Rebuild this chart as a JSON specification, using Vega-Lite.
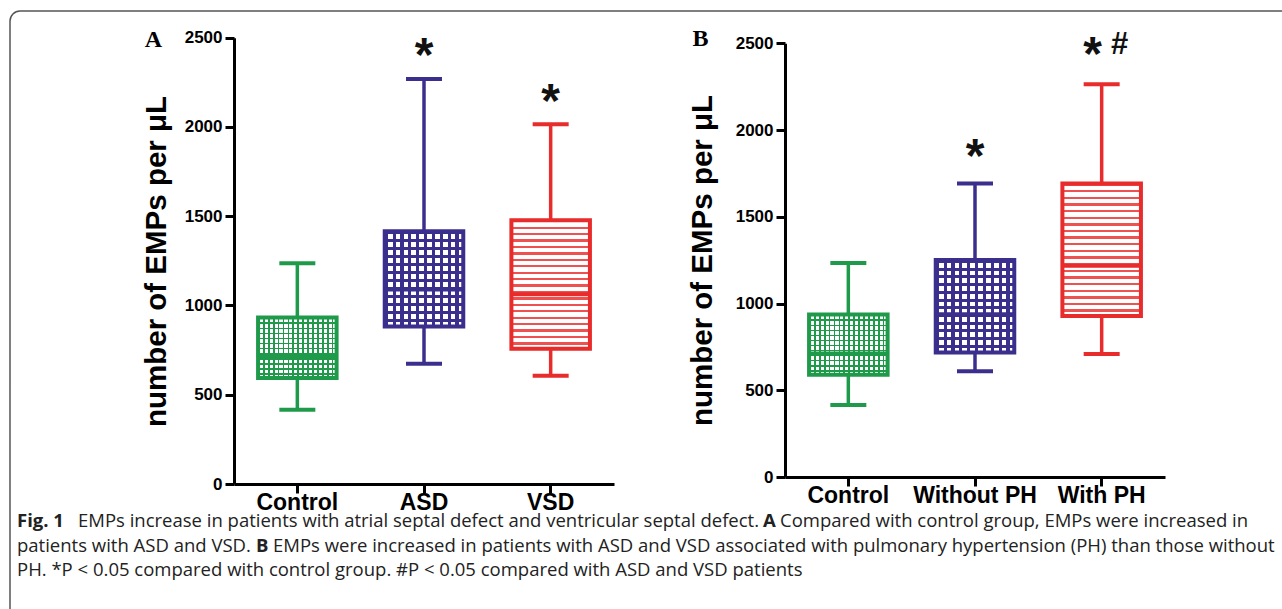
{
  "$schema": "https://vega.github.io/schema/vega-lite/v6.json",
  "autosize": "none",
  "width": 1290,
  "height": 610,
  "padding": {"left": 10, "top": 11, "right": 0, "bottom": 0},
  "background": "white",
  "config": {
    "view": {"stroke": "#555555", "strokeWidth": 1.5, "cornerRadius": 10, "fill": "white"},
    "axis": {"domainColor": "#000", "domainWidth": 3, "tickColor": "#000", "tickWidth": 3, "tickSize": 9, "grid": false,
      "labelFont": "Liberation Sans", "labelFontWeight": "bold", "labelColor": "#000",
      "titleFont": "Liberation Sans", "titleFontWeight": "bold", "titleColor": "#000"},
    "axisX": {"labelFontSize": 23, "labelAngle": 0, "labelPadding": -2},
    "axisY": {"labelFontSize": 17, "labelPadding": 3, "titleFontSize": 29.5, "format": "d"},
    "tick": {"opacity": 1}
  },
  "datasets": {
    "boxes": [
      {"panel": "A", "group": "Control", "min": 416, "q1": 594, "median": 713, "q3": 933, "max": 1236},
      {"panel": "A", "group": "ASD", "min": 674, "q1": 882, "median": 1090, "q3": 1416, "max": 2268},
      {"panel": "A", "group": "VSD", "min": 607, "q1": 758, "median": 1063, "q3": 1478, "max": 2015},
      {"panel": "B", "group": "Control", "min": 415, "q1": 589, "median": 712, "q3": 937, "max": 1233},
      {"panel": "B", "group": "Without PH", "min": 610, "q1": 718, "median": 938, "q3": 1251, "max": 1692},
      {"panel": "B", "group": "With PH", "min": 709, "q1": 928, "median": 1217, "q3": 1692, "max": 2264}
    ],
    "notes": [
      {"panel": "A", "group": "ASD", "label": "*", "value": 2455},
      {"panel": "A", "group": "VSD", "label": "*", "value": 2197},
      {"panel": "B", "group": "Without PH", "label": "*", "value": 1900},
      {"panel": "B", "group": "With PH", "label": "*", "value": 2490},
      {"panel": "B", "group": "With PH", "label": "#", "value": 2490}
    ],
    "caption": [
      {"line": 1, "seg": "fig", "text": "Fig. 1"},
      {"line": 1, "seg": "t1", "text": "EMPs increase in patients with atrial septal defect and ventricular septal defect."},
      {"line": 1, "seg": "a", "text": "A"},
      {"line": 1, "seg": "t2", "text": "Compared with control group, EMPs were increased in"},
      {"line": 2, "seg": "t3", "text": "patients with ASD and VSD."},
      {"line": 2, "seg": "b", "text": "B"},
      {"line": 2, "seg": "t4", "text": "EMPs were increased in patients with ASD and VSD associated with pulmonary hypertension (PH) than those without"},
      {"line": 3, "seg": "t5", "text": "PH. *P < 0.05 compared with control group. #P < 0.05 compared with ASD and VSD patients"}
    ]
  },
  "layer": [
    {
      "data": {"name": "boxes"},
      "transform": [{"filter": "datum.panel === 'A'"}],
      "encoding": {
        "x": {"field": "group", "type": "nominal",
          "scale": {"domain": ["Control", "ASD", "VSD"], "range": [224, 604], "paddingInner": 0, "paddingOuter": 0},
          "axis": {"orient": "bottom", "offset": -137, "title": "A", "titleX": 143, "titleY": -445, "titleFont": "Liberation Serif", "titleFontSize": 24, "titleAngle": 0, "titleAlign": "center", "titleBaseline": "middle"}}
      },
      "layer": [
        {"transform": [{"filter": "datum.group === 'Control'"}],
          "mark": {"type": "bar", "width": {"band": 0.62}, "fill": {"gradient": "linear", "x1": 0, "y1": 0, "x2": 1, "y2": 0, "stops": [
            {"offset": 0, "color": "#1f9a4b"}, {"offset": 0.022, "color": "#1f9a4b"}, {"offset": 0.022, "color": "#ffffff"}, {"offset": 0.0625, "color": "#ffffff"},
            {"offset": 0.0625, "color": "#1f9a4b"}, {"offset": 0.0845, "color": "#1f9a4b"}, {"offset": 0.0845, "color": "#ffffff"}, {"offset": 0.125, "color": "#ffffff"},
            {"offset": 0.125, "color": "#1f9a4b"}, {"offset": 0.147, "color": "#1f9a4b"}, {"offset": 0.147, "color": "#ffffff"}, {"offset": 0.1875, "color": "#ffffff"},
            {"offset": 0.1875, "color": "#1f9a4b"}, {"offset": 0.2095, "color": "#1f9a4b"}, {"offset": 0.2095, "color": "#ffffff"}, {"offset": 0.25, "color": "#ffffff"},
            {"offset": 0.25, "color": "#1f9a4b"}, {"offset": 0.272, "color": "#1f9a4b"}, {"offset": 0.272, "color": "#ffffff"}, {"offset": 0.3125, "color": "#ffffff"},
            {"offset": 0.3125, "color": "#1f9a4b"}, {"offset": 0.3345, "color": "#1f9a4b"}, {"offset": 0.3345, "color": "#ffffff"}, {"offset": 0.375, "color": "#ffffff"},
            {"offset": 0.375, "color": "#1f9a4b"}, {"offset": 0.397, "color": "#1f9a4b"}, {"offset": 0.397, "color": "#ffffff"}, {"offset": 0.4375, "color": "#ffffff"},
            {"offset": 0.4375, "color": "#1f9a4b"}, {"offset": 0.4595, "color": "#1f9a4b"}, {"offset": 0.4595, "color": "#ffffff"}, {"offset": 0.5, "color": "#ffffff"},
            {"offset": 0.5, "color": "#1f9a4b"}, {"offset": 0.522, "color": "#1f9a4b"}, {"offset": 0.522, "color": "#ffffff"}, {"offset": 0.5625, "color": "#ffffff"},
            {"offset": 0.5625, "color": "#1f9a4b"}, {"offset": 0.5845, "color": "#1f9a4b"}, {"offset": 0.5845, "color": "#ffffff"}, {"offset": 0.625, "color": "#ffffff"},
            {"offset": 0.625, "color": "#1f9a4b"}, {"offset": 0.647, "color": "#1f9a4b"}, {"offset": 0.647, "color": "#ffffff"}, {"offset": 0.6875, "color": "#ffffff"},
            {"offset": 0.6875, "color": "#1f9a4b"}, {"offset": 0.7095, "color": "#1f9a4b"}, {"offset": 0.7095, "color": "#ffffff"}, {"offset": 0.75, "color": "#ffffff"},
            {"offset": 0.75, "color": "#1f9a4b"}, {"offset": 0.772, "color": "#1f9a4b"}, {"offset": 0.772, "color": "#ffffff"}, {"offset": 0.8125, "color": "#ffffff"},
            {"offset": 0.8125, "color": "#1f9a4b"}, {"offset": 0.8345, "color": "#1f9a4b"}, {"offset": 0.8345, "color": "#ffffff"}, {"offset": 0.875, "color": "#ffffff"},
            {"offset": 0.875, "color": "#1f9a4b"}, {"offset": 0.897, "color": "#1f9a4b"}, {"offset": 0.897, "color": "#ffffff"}, {"offset": 0.9375, "color": "#ffffff"},
            {"offset": 0.9375, "color": "#1f9a4b"}, {"offset": 0.9595, "color": "#1f9a4b"}, {"offset": 0.9595, "color": "#ffffff"}, {"offset": 1, "color": "#ffffff"}]}},
          "encoding": {"y": {"field": "q3", "type": "quantitative",
            "scale": {"domain": [0, 2500], "range": [473, 26.7], "nice": false},
            "axis": {"orient": "left", "offset": -224, "values": [0, 500, 1000, 1500, 2000, 2500], "title": "number of EMPs per μL", "titleX": -78, "titleY": 250, "titleAngle": -90, "titleAlign": "center", "titleBaseline": "middle"}},
            "y2": {"field": "q1"}}},
        {"transform": [{"filter": "datum.group === 'Control'"}],
          "mark": {"type": "bar", "width": {"band": 0.62}, "fill": {"gradient": "linear", "x1": 0, "y1": 0, "x2": 0, "y2": 1, "stops": [
            {"offset": 0, "color": "#1f9a4b"}, {"offset": 0.029, "color": "#1f9a4b"}, {"offset": 0.029, "color": "rgba(255,255,255,0)"}, {"offset": 0.0833, "color": "rgba(255,255,255,0)"},
            {"offset": 0.0833, "color": "#1f9a4b"}, {"offset": 0.1125, "color": "#1f9a4b"}, {"offset": 0.1125, "color": "rgba(255,255,255,0)"}, {"offset": 0.1667, "color": "rgba(255,255,255,0)"},
            {"offset": 0.1667, "color": "#1f9a4b"}, {"offset": 0.1958, "color": "#1f9a4b"}, {"offset": 0.1958, "color": "rgba(255,255,255,0)"}, {"offset": 0.25, "color": "rgba(255,255,255,0)"},
            {"offset": 0.25, "color": "#1f9a4b"}, {"offset": 0.2792, "color": "#1f9a4b"}, {"offset": 0.2792, "color": "rgba(255,255,255,0)"}, {"offset": 0.3333, "color": "rgba(255,255,255,0)"},
            {"offset": 0.3333, "color": "#1f9a4b"}, {"offset": 0.3625, "color": "#1f9a4b"}, {"offset": 0.3625, "color": "rgba(255,255,255,0)"}, {"offset": 0.4167, "color": "rgba(255,255,255,0)"},
            {"offset": 0.4167, "color": "#1f9a4b"}, {"offset": 0.4458, "color": "#1f9a4b"}, {"offset": 0.4458, "color": "rgba(255,255,255,0)"}, {"offset": 0.5, "color": "rgba(255,255,255,0)"},
            {"offset": 0.5, "color": "#1f9a4b"}, {"offset": 0.5292, "color": "#1f9a4b"}, {"offset": 0.5292, "color": "rgba(255,255,255,0)"}, {"offset": 0.5833, "color": "rgba(255,255,255,0)"},
            {"offset": 0.5833, "color": "#1f9a4b"}, {"offset": 0.6125, "color": "#1f9a4b"}, {"offset": 0.6125, "color": "rgba(255,255,255,0)"}, {"offset": 0.6667, "color": "rgba(255,255,255,0)"},
            {"offset": 0.6667, "color": "#1f9a4b"}, {"offset": 0.6958, "color": "#1f9a4b"}, {"offset": 0.6958, "color": "rgba(255,255,255,0)"}, {"offset": 0.75, "color": "rgba(255,255,255,0)"},
            {"offset": 0.75, "color": "#1f9a4b"}, {"offset": 0.7792, "color": "#1f9a4b"}, {"offset": 0.7792, "color": "rgba(255,255,255,0)"}, {"offset": 0.8333, "color": "rgba(255,255,255,0)"},
            {"offset": 0.8333, "color": "#1f9a4b"}, {"offset": 0.8625, "color": "#1f9a4b"}, {"offset": 0.8625, "color": "rgba(255,255,255,0)"}, {"offset": 0.9167, "color": "rgba(255,255,255,0)"},
            {"offset": 0.9167, "color": "#1f9a4b"}, {"offset": 0.9458, "color": "#1f9a4b"}, {"offset": 0.9458, "color": "rgba(255,255,255,0)"}, {"offset": 1, "color": "rgba(255,255,255,0)"}]}},
          "encoding": {"y": {"field": "q3", "type": "quantitative"}, "y2": {"field": "q1"}}},
        {"transform": [{"filter": "datum.group === 'ASD'"}],
          "mark": {"type": "bar", "width": {"band": 0.62}, "fill": {"gradient": "linear", "x1": 0, "y1": 0, "x2": 1, "y2": 0, "stops": [
            {"offset": 0, "color": "#3b2f8d"}, {"offset": 0.04, "color": "#3b2f8d"}, {"offset": 0.04, "color": "#ffffff"}, {"offset": 0.1, "color": "#ffffff"},
            {"offset": 0.1, "color": "#3b2f8d"}, {"offset": 0.14, "color": "#3b2f8d"}, {"offset": 0.14, "color": "#ffffff"}, {"offset": 0.2, "color": "#ffffff"},
            {"offset": 0.2, "color": "#3b2f8d"}, {"offset": 0.24, "color": "#3b2f8d"}, {"offset": 0.24, "color": "#ffffff"}, {"offset": 0.3, "color": "#ffffff"},
            {"offset": 0.3, "color": "#3b2f8d"}, {"offset": 0.34, "color": "#3b2f8d"}, {"offset": 0.34, "color": "#ffffff"}, {"offset": 0.4, "color": "#ffffff"},
            {"offset": 0.4, "color": "#3b2f8d"}, {"offset": 0.44, "color": "#3b2f8d"}, {"offset": 0.44, "color": "#ffffff"}, {"offset": 0.5, "color": "#ffffff"},
            {"offset": 0.5, "color": "#3b2f8d"}, {"offset": 0.54, "color": "#3b2f8d"}, {"offset": 0.54, "color": "#ffffff"}, {"offset": 0.6, "color": "#ffffff"},
            {"offset": 0.6, "color": "#3b2f8d"}, {"offset": 0.64, "color": "#3b2f8d"}, {"offset": 0.64, "color": "#ffffff"}, {"offset": 0.7, "color": "#ffffff"},
            {"offset": 0.7, "color": "#3b2f8d"}, {"offset": 0.74, "color": "#3b2f8d"}, {"offset": 0.74, "color": "#ffffff"}, {"offset": 0.8, "color": "#ffffff"},
            {"offset": 0.8, "color": "#3b2f8d"}, {"offset": 0.84, "color": "#3b2f8d"}, {"offset": 0.84, "color": "#ffffff"}, {"offset": 0.9, "color": "#ffffff"},
            {"offset": 0.9, "color": "#3b2f8d"}, {"offset": 0.94, "color": "#3b2f8d"}, {"offset": 0.94, "color": "#ffffff"}, {"offset": 1, "color": "#ffffff"}]}},
          "encoding": {"y": {"field": "q3", "type": "quantitative"}, "y2": {"field": "q1"}}},
        {"transform": [{"filter": "datum.group === 'ASD'"}],
          "mark": {"type": "bar", "width": {"band": 0.62}, "fill": {"gradient": "linear", "x1": 0, "y1": 0, "x2": 0, "y2": 1, "stops": [
            {"offset": 0, "color": "#3b2f8d"}, {"offset": 0.0333, "color": "#3b2f8d"}, {"offset": 0.0333, "color": "rgba(255,255,255,0)"}, {"offset": 0.0833, "color": "rgba(255,255,255,0)"},
            {"offset": 0.0833, "color": "#3b2f8d"}, {"offset": 0.1167, "color": "#3b2f8d"}, {"offset": 0.1167, "color": "rgba(255,255,255,0)"}, {"offset": 0.1667, "color": "rgba(255,255,255,0)"},
            {"offset": 0.1667, "color": "#3b2f8d"}, {"offset": 0.2, "color": "#3b2f8d"}, {"offset": 0.2, "color": "rgba(255,255,255,0)"}, {"offset": 0.25, "color": "rgba(255,255,255,0)"},
            {"offset": 0.25, "color": "#3b2f8d"}, {"offset": 0.2833, "color": "#3b2f8d"}, {"offset": 0.2833, "color": "rgba(255,255,255,0)"}, {"offset": 0.3333, "color": "rgba(255,255,255,0)"},
            {"offset": 0.3333, "color": "#3b2f8d"}, {"offset": 0.3667, "color": "#3b2f8d"}, {"offset": 0.3667, "color": "rgba(255,255,255,0)"}, {"offset": 0.4167, "color": "rgba(255,255,255,0)"},
            {"offset": 0.4167, "color": "#3b2f8d"}, {"offset": 0.45, "color": "#3b2f8d"}, {"offset": 0.45, "color": "rgba(255,255,255,0)"}, {"offset": 0.5, "color": "rgba(255,255,255,0)"},
            {"offset": 0.5, "color": "#3b2f8d"}, {"offset": 0.5333, "color": "#3b2f8d"}, {"offset": 0.5333, "color": "rgba(255,255,255,0)"}, {"offset": 0.5833, "color": "rgba(255,255,255,0)"},
            {"offset": 0.5833, "color": "#3b2f8d"}, {"offset": 0.6167, "color": "#3b2f8d"}, {"offset": 0.6167, "color": "rgba(255,255,255,0)"}, {"offset": 0.6667, "color": "rgba(255,255,255,0)"},
            {"offset": 0.6667, "color": "#3b2f8d"}, {"offset": 0.7, "color": "#3b2f8d"}, {"offset": 0.7, "color": "rgba(255,255,255,0)"}, {"offset": 0.75, "color": "rgba(255,255,255,0)"},
            {"offset": 0.75, "color": "#3b2f8d"}, {"offset": 0.7833, "color": "#3b2f8d"}, {"offset": 0.7833, "color": "rgba(255,255,255,0)"}, {"offset": 0.8333, "color": "rgba(255,255,255,0)"},
            {"offset": 0.8333, "color": "#3b2f8d"}, {"offset": 0.8667, "color": "#3b2f8d"}, {"offset": 0.8667, "color": "rgba(255,255,255,0)"}, {"offset": 0.9167, "color": "rgba(255,255,255,0)"},
            {"offset": 0.9167, "color": "#3b2f8d"}, {"offset": 0.95, "color": "#3b2f8d"}, {"offset": 0.95, "color": "rgba(255,255,255,0)"}, {"offset": 1, "color": "rgba(255,255,255,0)"}]}},
          "encoding": {"y": {"field": "q3", "type": "quantitative"}, "y2": {"field": "q1"}}},
        {"transform": [{"filter": "datum.group === 'VSD'"}],
          "mark": {"type": "bar", "width": {"band": 0.62}, "fill": {"gradient": "linear", "x1": 0, "y1": 0, "x2": 0, "y2": 1, "stops": [
            {"offset": 0, "color": "#ef5050"}, {"offset": 0.018, "color": "#ef5050"}, {"offset": 0.018, "color": "#ffffff"}, {"offset": 0.05, "color": "#ffffff"},
            {"offset": 0.05, "color": "#ef5050"}, {"offset": 0.068, "color": "#ef5050"}, {"offset": 0.068, "color": "#ffffff"}, {"offset": 0.1, "color": "#ffffff"},
            {"offset": 0.1, "color": "#ef5050"}, {"offset": 0.118, "color": "#ef5050"}, {"offset": 0.118, "color": "#ffffff"}, {"offset": 0.15, "color": "#ffffff"},
            {"offset": 0.15, "color": "#ef5050"}, {"offset": 0.168, "color": "#ef5050"}, {"offset": 0.168, "color": "#ffffff"}, {"offset": 0.2, "color": "#ffffff"},
            {"offset": 0.2, "color": "#ef5050"}, {"offset": 0.218, "color": "#ef5050"}, {"offset": 0.218, "color": "#ffffff"}, {"offset": 0.25, "color": "#ffffff"},
            {"offset": 0.25, "color": "#ef5050"}, {"offset": 0.268, "color": "#ef5050"}, {"offset": 0.268, "color": "#ffffff"}, {"offset": 0.3, "color": "#ffffff"},
            {"offset": 0.3, "color": "#ef5050"}, {"offset": 0.318, "color": "#ef5050"}, {"offset": 0.318, "color": "#ffffff"}, {"offset": 0.35, "color": "#ffffff"},
            {"offset": 0.35, "color": "#ef5050"}, {"offset": 0.368, "color": "#ef5050"}, {"offset": 0.368, "color": "#ffffff"}, {"offset": 0.4, "color": "#ffffff"},
            {"offset": 0.4, "color": "#ef5050"}, {"offset": 0.418, "color": "#ef5050"}, {"offset": 0.418, "color": "#ffffff"}, {"offset": 0.45, "color": "#ffffff"},
            {"offset": 0.45, "color": "#ef5050"}, {"offset": 0.468, "color": "#ef5050"}, {"offset": 0.468, "color": "#ffffff"}, {"offset": 0.5, "color": "#ffffff"},
            {"offset": 0.5, "color": "#ef5050"}, {"offset": 0.518, "color": "#ef5050"}, {"offset": 0.518, "color": "#ffffff"}, {"offset": 0.55, "color": "#ffffff"},
            {"offset": 0.55, "color": "#ef5050"}, {"offset": 0.568, "color": "#ef5050"}, {"offset": 0.568, "color": "#ffffff"}, {"offset": 0.6, "color": "#ffffff"},
            {"offset": 0.6, "color": "#ef5050"}, {"offset": 0.618, "color": "#ef5050"}, {"offset": 0.618, "color": "#ffffff"}, {"offset": 0.65, "color": "#ffffff"},
            {"offset": 0.65, "color": "#ef5050"}, {"offset": 0.668, "color": "#ef5050"}, {"offset": 0.668, "color": "#ffffff"}, {"offset": 0.7, "color": "#ffffff"},
            {"offset": 0.7, "color": "#ef5050"}, {"offset": 0.718, "color": "#ef5050"}, {"offset": 0.718, "color": "#ffffff"}, {"offset": 0.75, "color": "#ffffff"},
            {"offset": 0.75, "color": "#ef5050"}, {"offset": 0.768, "color": "#ef5050"}, {"offset": 0.768, "color": "#ffffff"}, {"offset": 0.8, "color": "#ffffff"},
            {"offset": 0.8, "color": "#ef5050"}, {"offset": 0.818, "color": "#ef5050"}, {"offset": 0.818, "color": "#ffffff"}, {"offset": 0.85, "color": "#ffffff"},
            {"offset": 0.85, "color": "#ef5050"}, {"offset": 0.868, "color": "#ef5050"}, {"offset": 0.868, "color": "#ffffff"}, {"offset": 0.9, "color": "#ffffff"},
            {"offset": 0.9, "color": "#ef5050"}, {"offset": 0.918, "color": "#ef5050"}, {"offset": 0.918, "color": "#ffffff"}, {"offset": 0.95, "color": "#ffffff"},
            {"offset": 0.95, "color": "#ef5050"}, {"offset": 0.968, "color": "#ef5050"}, {"offset": 0.968, "color": "#ffffff"}, {"offset": 1, "color": "#ffffff"}]}},
          "encoding": {"y": {"field": "q3", "type": "quantitative"}, "y2": {"field": "q1"}}},
        {"mark": {"type": "bar", "fill": "transparent", "strokeWidth": 4, "width": {"band": 0.62}},
          "encoding": {"y": {"field": "q3", "type": "quantitative"}, "y2": {"field": "q1"},
            "stroke": {"field": "group", "type": "nominal", "scale": {"domain": ["Control", "ASD", "VSD", "Without PH", "With PH"], "range": ["#1f9a4b", "#3b2f8d", "#e82b2b", "#3b2f8d", "#e82b2b"]}, "legend": null}}},
        {"mark": {"type": "rule", "strokeWidth": 3.5},
          "encoding": {"y": {"field": "min", "type": "quantitative"}, "y2": {"field": "q1"},
            "color": {"field": "group", "type": "nominal", "scale": {"domain": ["Control", "ASD", "VSD", "Without PH", "With PH"], "range": ["#1f9a4b", "#3b2f8d", "#e82b2b", "#3b2f8d", "#e82b2b"]}, "legend": null}}},
        {"mark": {"type": "rule", "strokeWidth": 3.5},
          "encoding": {"y": {"field": "q3", "type": "quantitative"}, "y2": {"field": "max"}, "color": {"field": "group", "type": "nominal", "legend": null}}},
        {"mark": {"type": "tick", "size": 36, "thickness": 4, "opacity": 1},
          "encoding": {"y": {"field": "min", "type": "quantitative"}, "color": {"field": "group", "type": "nominal", "legend": null}}},
        {"mark": {"type": "tick", "size": 36, "thickness": 4, "opacity": 1},
          "encoding": {"y": {"field": "max", "type": "quantitative"}, "color": {"field": "group", "type": "nominal", "legend": null}}},
        {"mark": {"type": "tick", "size": 80, "thickness": 4, "opacity": 1},
          "encoding": {"y": {"field": "median", "type": "quantitative"}, "color": {"field": "group", "type": "nominal", "legend": null}}},
        {"data": {"name": "notes"}, "transform": [{"filter": "datum.panel === 'A'"}],
          "mark": {"type": "text", "font": "Liberation Sans", "fontWeight": "bold", "fontSize": 48, "baseline": "middle", "dy": 11, "color": "#111"},
          "encoding": {"y": {"field": "value", "type": "quantitative"}, "text": {"field": "label"}}}
      ]
    },
    {
      "data": {"name": "boxes"},
      "transform": [{"filter": "datum.panel === 'B'"}],
      "encoding": {
        "x": {"field": "group", "type": "nominal",
          "scale": {"domain": ["Control", "Without PH", "With PH"], "range": [775, 1155], "paddingInner": 0, "paddingOuter": 0},
          "axis": {"orient": "bottom", "offset": -144, "title": "B", "titleX": 690, "titleY": -439, "titleFont": "Liberation Serif", "titleFontSize": 24, "titleAngle": 0, "titleAlign": "center", "titleBaseline": "middle"}}
      },
      "layer": [
        {"transform": [{"filter": "datum.group === 'Control'"}],
          "mark": {"type": "bar", "width": {"band": 0.62}, "fill": {"gradient": "linear", "x1": 0, "y1": 0, "x2": 1, "y2": 0, "stops": [
            {"offset": 0, "color": "#1f9a4b"}, {"offset": 0.022, "color": "#1f9a4b"}, {"offset": 0.022, "color": "#ffffff"}, {"offset": 0.0625, "color": "#ffffff"},
            {"offset": 0.0625, "color": "#1f9a4b"}, {"offset": 0.0845, "color": "#1f9a4b"}, {"offset": 0.0845, "color": "#ffffff"}, {"offset": 0.125, "color": "#ffffff"},
            {"offset": 0.125, "color": "#1f9a4b"}, {"offset": 0.147, "color": "#1f9a4b"}, {"offset": 0.147, "color": "#ffffff"}, {"offset": 0.1875, "color": "#ffffff"},
            {"offset": 0.1875, "color": "#1f9a4b"}, {"offset": 0.2095, "color": "#1f9a4b"}, {"offset": 0.2095, "color": "#ffffff"}, {"offset": 0.25, "color": "#ffffff"},
            {"offset": 0.25, "color": "#1f9a4b"}, {"offset": 0.272, "color": "#1f9a4b"}, {"offset": 0.272, "color": "#ffffff"}, {"offset": 0.3125, "color": "#ffffff"},
            {"offset": 0.3125, "color": "#1f9a4b"}, {"offset": 0.3345, "color": "#1f9a4b"}, {"offset": 0.3345, "color": "#ffffff"}, {"offset": 0.375, "color": "#ffffff"},
            {"offset": 0.375, "color": "#1f9a4b"}, {"offset": 0.397, "color": "#1f9a4b"}, {"offset": 0.397, "color": "#ffffff"}, {"offset": 0.4375, "color": "#ffffff"},
            {"offset": 0.4375, "color": "#1f9a4b"}, {"offset": 0.4595, "color": "#1f9a4b"}, {"offset": 0.4595, "color": "#ffffff"}, {"offset": 0.5, "color": "#ffffff"},
            {"offset": 0.5, "color": "#1f9a4b"}, {"offset": 0.522, "color": "#1f9a4b"}, {"offset": 0.522, "color": "#ffffff"}, {"offset": 0.5625, "color": "#ffffff"},
            {"offset": 0.5625, "color": "#1f9a4b"}, {"offset": 0.5845, "color": "#1f9a4b"}, {"offset": 0.5845, "color": "#ffffff"}, {"offset": 0.625, "color": "#ffffff"},
            {"offset": 0.625, "color": "#1f9a4b"}, {"offset": 0.647, "color": "#1f9a4b"}, {"offset": 0.647, "color": "#ffffff"}, {"offset": 0.6875, "color": "#ffffff"},
            {"offset": 0.6875, "color": "#1f9a4b"}, {"offset": 0.7095, "color": "#1f9a4b"}, {"offset": 0.7095, "color": "#ffffff"}, {"offset": 0.75, "color": "#ffffff"},
            {"offset": 0.75, "color": "#1f9a4b"}, {"offset": 0.772, "color": "#1f9a4b"}, {"offset": 0.772, "color": "#ffffff"}, {"offset": 0.8125, "color": "#ffffff"},
            {"offset": 0.8125, "color": "#1f9a4b"}, {"offset": 0.8345, "color": "#1f9a4b"}, {"offset": 0.8345, "color": "#ffffff"}, {"offset": 0.875, "color": "#ffffff"},
            {"offset": 0.875, "color": "#1f9a4b"}, {"offset": 0.897, "color": "#1f9a4b"}, {"offset": 0.897, "color": "#ffffff"}, {"offset": 0.9375, "color": "#ffffff"},
            {"offset": 0.9375, "color": "#1f9a4b"}, {"offset": 0.9595, "color": "#1f9a4b"}, {"offset": 0.9595, "color": "#ffffff"}, {"offset": 1, "color": "#ffffff"}]}},
          "encoding": {"y": {"field": "q3", "type": "quantitative",
            "scale": {"domain": [0, 2500], "range": [466, 32.3], "nice": false},
            "axis": {"orient": "left", "offset": -775, "values": [0, 500, 1000, 1500, 2000, 2500], "title": "number of EMPs per μL", "titleX": -83, "titleY": 249, "titleAngle": -90, "titleAlign": "center", "titleBaseline": "middle"}},
            "y2": {"field": "q1"}}},
        {"transform": [{"filter": "datum.group === 'Control'"}],
          "mark": {"type": "bar", "width": {"band": 0.62}, "fill": {"gradient": "linear", "x1": 0, "y1": 0, "x2": 0, "y2": 1, "stops": [
            {"offset": 0, "color": "#1f9a4b"}, {"offset": 0.029, "color": "#1f9a4b"}, {"offset": 0.029, "color": "rgba(255,255,255,0)"}, {"offset": 0.0833, "color": "rgba(255,255,255,0)"},
            {"offset": 0.0833, "color": "#1f9a4b"}, {"offset": 0.1125, "color": "#1f9a4b"}, {"offset": 0.1125, "color": "rgba(255,255,255,0)"}, {"offset": 0.1667, "color": "rgba(255,255,255,0)"},
            {"offset": 0.1667, "color": "#1f9a4b"}, {"offset": 0.1958, "color": "#1f9a4b"}, {"offset": 0.1958, "color": "rgba(255,255,255,0)"}, {"offset": 0.25, "color": "rgba(255,255,255,0)"},
            {"offset": 0.25, "color": "#1f9a4b"}, {"offset": 0.2792, "color": "#1f9a4b"}, {"offset": 0.2792, "color": "rgba(255,255,255,0)"}, {"offset": 0.3333, "color": "rgba(255,255,255,0)"},
            {"offset": 0.3333, "color": "#1f9a4b"}, {"offset": 0.3625, "color": "#1f9a4b"}, {"offset": 0.3625, "color": "rgba(255,255,255,0)"}, {"offset": 0.4167, "color": "rgba(255,255,255,0)"},
            {"offset": 0.4167, "color": "#1f9a4b"}, {"offset": 0.4458, "color": "#1f9a4b"}, {"offset": 0.4458, "color": "rgba(255,255,255,0)"}, {"offset": 0.5, "color": "rgba(255,255,255,0)"},
            {"offset": 0.5, "color": "#1f9a4b"}, {"offset": 0.5292, "color": "#1f9a4b"}, {"offset": 0.5292, "color": "rgba(255,255,255,0)"}, {"offset": 0.5833, "color": "rgba(255,255,255,0)"},
            {"offset": 0.5833, "color": "#1f9a4b"}, {"offset": 0.6125, "color": "#1f9a4b"}, {"offset": 0.6125, "color": "rgba(255,255,255,0)"}, {"offset": 0.6667, "color": "rgba(255,255,255,0)"},
            {"offset": 0.6667, "color": "#1f9a4b"}, {"offset": 0.6958, "color": "#1f9a4b"}, {"offset": 0.6958, "color": "rgba(255,255,255,0)"}, {"offset": 0.75, "color": "rgba(255,255,255,0)"},
            {"offset": 0.75, "color": "#1f9a4b"}, {"offset": 0.7792, "color": "#1f9a4b"}, {"offset": 0.7792, "color": "rgba(255,255,255,0)"}, {"offset": 0.8333, "color": "rgba(255,255,255,0)"},
            {"offset": 0.8333, "color": "#1f9a4b"}, {"offset": 0.8625, "color": "#1f9a4b"}, {"offset": 0.8625, "color": "rgba(255,255,255,0)"}, {"offset": 0.9167, "color": "rgba(255,255,255,0)"},
            {"offset": 0.9167, "color": "#1f9a4b"}, {"offset": 0.9458, "color": "#1f9a4b"}, {"offset": 0.9458, "color": "rgba(255,255,255,0)"}, {"offset": 1, "color": "rgba(255,255,255,0)"}]}},
          "encoding": {"y": {"field": "q3", "type": "quantitative"}, "y2": {"field": "q1"}}},
        {"transform": [{"filter": "datum.group === 'Without PH'"}],
          "mark": {"type": "bar", "width": {"band": 0.62}, "fill": {"gradient": "linear", "x1": 0, "y1": 0, "x2": 1, "y2": 0, "stops": [
            {"offset": 0, "color": "#3b2f8d"}, {"offset": 0.04, "color": "#3b2f8d"}, {"offset": 0.04, "color": "#ffffff"}, {"offset": 0.1, "color": "#ffffff"},
            {"offset": 0.1, "color": "#3b2f8d"}, {"offset": 0.14, "color": "#3b2f8d"}, {"offset": 0.14, "color": "#ffffff"}, {"offset": 0.2, "color": "#ffffff"},
            {"offset": 0.2, "color": "#3b2f8d"}, {"offset": 0.24, "color": "#3b2f8d"}, {"offset": 0.24, "color": "#ffffff"}, {"offset": 0.3, "color": "#ffffff"},
            {"offset": 0.3, "color": "#3b2f8d"}, {"offset": 0.34, "color": "#3b2f8d"}, {"offset": 0.34, "color": "#ffffff"}, {"offset": 0.4, "color": "#ffffff"},
            {"offset": 0.4, "color": "#3b2f8d"}, {"offset": 0.44, "color": "#3b2f8d"}, {"offset": 0.44, "color": "#ffffff"}, {"offset": 0.5, "color": "#ffffff"},
            {"offset": 0.5, "color": "#3b2f8d"}, {"offset": 0.54, "color": "#3b2f8d"}, {"offset": 0.54, "color": "#ffffff"}, {"offset": 0.6, "color": "#ffffff"},
            {"offset": 0.6, "color": "#3b2f8d"}, {"offset": 0.64, "color": "#3b2f8d"}, {"offset": 0.64, "color": "#ffffff"}, {"offset": 0.7, "color": "#ffffff"},
            {"offset": 0.7, "color": "#3b2f8d"}, {"offset": 0.74, "color": "#3b2f8d"}, {"offset": 0.74, "color": "#ffffff"}, {"offset": 0.8, "color": "#ffffff"},
            {"offset": 0.8, "color": "#3b2f8d"}, {"offset": 0.84, "color": "#3b2f8d"}, {"offset": 0.84, "color": "#ffffff"}, {"offset": 0.9, "color": "#ffffff"},
            {"offset": 0.9, "color": "#3b2f8d"}, {"offset": 0.94, "color": "#3b2f8d"}, {"offset": 0.94, "color": "#ffffff"}, {"offset": 1, "color": "#ffffff"}]}},
          "encoding": {"y": {"field": "q3", "type": "quantitative"}, "y2": {"field": "q1"}}},
        {"transform": [{"filter": "datum.group === 'Without PH'"}],
          "mark": {"type": "bar", "width": {"band": 0.62}, "fill": {"gradient": "linear", "x1": 0, "y1": 0, "x2": 0, "y2": 1, "stops": [
            {"offset": 0, "color": "#3b2f8d"}, {"offset": 0.0333, "color": "#3b2f8d"}, {"offset": 0.0333, "color": "rgba(255,255,255,0)"}, {"offset": 0.0833, "color": "rgba(255,255,255,0)"},
            {"offset": 0.0833, "color": "#3b2f8d"}, {"offset": 0.1167, "color": "#3b2f8d"}, {"offset": 0.1167, "color": "rgba(255,255,255,0)"}, {"offset": 0.1667, "color": "rgba(255,255,255,0)"},
            {"offset": 0.1667, "color": "#3b2f8d"}, {"offset": 0.2, "color": "#3b2f8d"}, {"offset": 0.2, "color": "rgba(255,255,255,0)"}, {"offset": 0.25, "color": "rgba(255,255,255,0)"},
            {"offset": 0.25, "color": "#3b2f8d"}, {"offset": 0.2833, "color": "#3b2f8d"}, {"offset": 0.2833, "color": "rgba(255,255,255,0)"}, {"offset": 0.3333, "color": "rgba(255,255,255,0)"},
            {"offset": 0.3333, "color": "#3b2f8d"}, {"offset": 0.3667, "color": "#3b2f8d"}, {"offset": 0.3667, "color": "rgba(255,255,255,0)"}, {"offset": 0.4167, "color": "rgba(255,255,255,0)"},
            {"offset": 0.4167, "color": "#3b2f8d"}, {"offset": 0.45, "color": "#3b2f8d"}, {"offset": 0.45, "color": "rgba(255,255,255,0)"}, {"offset": 0.5, "color": "rgba(255,255,255,0)"},
            {"offset": 0.5, "color": "#3b2f8d"}, {"offset": 0.5333, "color": "#3b2f8d"}, {"offset": 0.5333, "color": "rgba(255,255,255,0)"}, {"offset": 0.5833, "color": "rgba(255,255,255,0)"},
            {"offset": 0.5833, "color": "#3b2f8d"}, {"offset": 0.6167, "color": "#3b2f8d"}, {"offset": 0.6167, "color": "rgba(255,255,255,0)"}, {"offset": 0.6667, "color": "rgba(255,255,255,0)"},
            {"offset": 0.6667, "color": "#3b2f8d"}, {"offset": 0.7, "color": "#3b2f8d"}, {"offset": 0.7, "color": "rgba(255,255,255,0)"}, {"offset": 0.75, "color": "rgba(255,255,255,0)"},
            {"offset": 0.75, "color": "#3b2f8d"}, {"offset": 0.7833, "color": "#3b2f8d"}, {"offset": 0.7833, "color": "rgba(255,255,255,0)"}, {"offset": 0.8333, "color": "rgba(255,255,255,0)"},
            {"offset": 0.8333, "color": "#3b2f8d"}, {"offset": 0.8667, "color": "#3b2f8d"}, {"offset": 0.8667, "color": "rgba(255,255,255,0)"}, {"offset": 0.9167, "color": "rgba(255,255,255,0)"},
            {"offset": 0.9167, "color": "#3b2f8d"}, {"offset": 0.95, "color": "#3b2f8d"}, {"offset": 0.95, "color": "rgba(255,255,255,0)"}, {"offset": 1, "color": "rgba(255,255,255,0)"}]}},
          "encoding": {"y": {"field": "q3", "type": "quantitative"}, "y2": {"field": "q1"}}},
        {"transform": [{"filter": "datum.group === 'With PH'"}],
          "mark": {"type": "bar", "width": {"band": 0.62}, "fill": {"gradient": "linear", "x1": 0, "y1": 0, "x2": 0, "y2": 1, "stops": [
            {"offset": 0, "color": "#ef5050"}, {"offset": 0.018, "color": "#ef5050"}, {"offset": 0.018, "color": "#ffffff"}, {"offset": 0.05, "color": "#ffffff"},
            {"offset": 0.05, "color": "#ef5050"}, {"offset": 0.068, "color": "#ef5050"}, {"offset": 0.068, "color": "#ffffff"}, {"offset": 0.1, "color": "#ffffff"},
            {"offset": 0.1, "color": "#ef5050"}, {"offset": 0.118, "color": "#ef5050"}, {"offset": 0.118, "color": "#ffffff"}, {"offset": 0.15, "color": "#ffffff"},
            {"offset": 0.15, "color": "#ef5050"}, {"offset": 0.168, "color": "#ef5050"}, {"offset": 0.168, "color": "#ffffff"}, {"offset": 0.2, "color": "#ffffff"},
            {"offset": 0.2, "color": "#ef5050"}, {"offset": 0.218, "color": "#ef5050"}, {"offset": 0.218, "color": "#ffffff"}, {"offset": 0.25, "color": "#ffffff"},
            {"offset": 0.25, "color": "#ef5050"}, {"offset": 0.268, "color": "#ef5050"}, {"offset": 0.268, "color": "#ffffff"}, {"offset": 0.3, "color": "#ffffff"},
            {"offset": 0.3, "color": "#ef5050"}, {"offset": 0.318, "color": "#ef5050"}, {"offset": 0.318, "color": "#ffffff"}, {"offset": 0.35, "color": "#ffffff"},
            {"offset": 0.35, "color": "#ef5050"}, {"offset": 0.368, "color": "#ef5050"}, {"offset": 0.368, "color": "#ffffff"}, {"offset": 0.4, "color": "#ffffff"},
            {"offset": 0.4, "color": "#ef5050"}, {"offset": 0.418, "color": "#ef5050"}, {"offset": 0.418, "color": "#ffffff"}, {"offset": 0.45, "color": "#ffffff"},
            {"offset": 0.45, "color": "#ef5050"}, {"offset": 0.468, "color": "#ef5050"}, {"offset": 0.468, "color": "#ffffff"}, {"offset": 0.5, "color": "#ffffff"},
            {"offset": 0.5, "color": "#ef5050"}, {"offset": 0.518, "color": "#ef5050"}, {"offset": 0.518, "color": "#ffffff"}, {"offset": 0.55, "color": "#ffffff"},
            {"offset": 0.55, "color": "#ef5050"}, {"offset": 0.568, "color": "#ef5050"}, {"offset": 0.568, "color": "#ffffff"}, {"offset": 0.6, "color": "#ffffff"},
            {"offset": 0.6, "color": "#ef5050"}, {"offset": 0.618, "color": "#ef5050"}, {"offset": 0.618, "color": "#ffffff"}, {"offset": 0.65, "color": "#ffffff"},
            {"offset": 0.65, "color": "#ef5050"}, {"offset": 0.668, "color": "#ef5050"}, {"offset": 0.668, "color": "#ffffff"}, {"offset": 0.7, "color": "#ffffff"},
            {"offset": 0.7, "color": "#ef5050"}, {"offset": 0.718, "color": "#ef5050"}, {"offset": 0.718, "color": "#ffffff"}, {"offset": 0.75, "color": "#ffffff"},
            {"offset": 0.75, "color": "#ef5050"}, {"offset": 0.768, "color": "#ef5050"}, {"offset": 0.768, "color": "#ffffff"}, {"offset": 0.8, "color": "#ffffff"},
            {"offset": 0.8, "color": "#ef5050"}, {"offset": 0.818, "color": "#ef5050"}, {"offset": 0.818, "color": "#ffffff"}, {"offset": 0.85, "color": "#ffffff"},
            {"offset": 0.85, "color": "#ef5050"}, {"offset": 0.868, "color": "#ef5050"}, {"offset": 0.868, "color": "#ffffff"}, {"offset": 0.9, "color": "#ffffff"},
            {"offset": 0.9, "color": "#ef5050"}, {"offset": 0.918, "color": "#ef5050"}, {"offset": 0.918, "color": "#ffffff"}, {"offset": 0.95, "color": "#ffffff"},
            {"offset": 0.95, "color": "#ef5050"}, {"offset": 0.968, "color": "#ef5050"}, {"offset": 0.968, "color": "#ffffff"}, {"offset": 1, "color": "#ffffff"}]}},
          "encoding": {"y": {"field": "q3", "type": "quantitative"}, "y2": {"field": "q1"}}},
        {"mark": {"type": "bar", "fill": "transparent", "strokeWidth": 4, "width": {"band": 0.62}},
          "encoding": {"y": {"field": "q3", "type": "quantitative"}, "y2": {"field": "q1"},
            "stroke": {"field": "group", "type": "nominal", "scale": {"domain": ["Control", "ASD", "VSD", "Without PH", "With PH"], "range": ["#1f9a4b", "#3b2f8d", "#e82b2b", "#3b2f8d", "#e82b2b"]}, "legend": null}}},
        {"mark": {"type": "rule", "strokeWidth": 3.5},
          "encoding": {"y": {"field": "min", "type": "quantitative"}, "y2": {"field": "q1"},
            "color": {"field": "group", "type": "nominal", "scale": {"domain": ["Control", "ASD", "VSD", "Without PH", "With PH"], "range": ["#1f9a4b", "#3b2f8d", "#e82b2b", "#3b2f8d", "#e82b2b"]}, "legend": null}}},
        {"mark": {"type": "rule", "strokeWidth": 3.5},
          "encoding": {"y": {"field": "q3", "type": "quantitative"}, "y2": {"field": "max"}, "color": {"field": "group", "type": "nominal", "legend": null}}},
        {"mark": {"type": "tick", "size": 36, "thickness": 4, "opacity": 1},
          "encoding": {"y": {"field": "min", "type": "quantitative"}, "color": {"field": "group", "type": "nominal", "legend": null}}},
        {"mark": {"type": "tick", "size": 36, "thickness": 4, "opacity": 1},
          "encoding": {"y": {"field": "max", "type": "quantitative"}, "color": {"field": "group", "type": "nominal", "legend": null}}},
        {"mark": {"type": "tick", "size": 80, "thickness": 4, "opacity": 1},
          "encoding": {"y": {"field": "median", "type": "quantitative"}, "color": {"field": "group", "type": "nominal", "legend": null}}},
        {"data": {"name": "notes"}, "transform": [{"filter": "datum.panel === 'B' && datum.label === '*' && datum.group === 'Without PH'"}],
          "mark": {"type": "text", "font": "Liberation Sans", "fontWeight": "bold", "fontSize": 48, "baseline": "middle", "dy": 11, "color": "#111"},
          "encoding": {"y": {"field": "value", "type": "quantitative"}, "text": {"field": "label"}}},
        {"data": {"name": "notes"}, "transform": [{"filter": "datum.panel === 'B' && datum.label === '*' && datum.group === 'With PH'"}],
          "mark": {"type": "text", "font": "Liberation Sans", "fontWeight": "bold", "fontSize": 48, "baseline": "middle", "dy": 11, "dx": -9, "color": "#111"},
          "encoding": {"y": {"field": "value", "type": "quantitative"}, "text": {"field": "label"}}},
        {"data": {"name": "notes"}, "transform": [{"filter": "datum.panel === 'B' && datum.label === '#'"}],
          "mark": {"type": "text", "font": "Liberation Sans", "fontWeight": "bold", "fontSize": 31, "baseline": "middle", "dy": 0, "dx": 18, "color": "#111"},
          "encoding": {"y": {"field": "value", "type": "quantitative"}, "text": {"field": "label"}}}
      ]
    },
    {
      "data": {"name": "caption"},
      "encoding": {
        "x": {"value": 7},
        "y": {"field": "line", "type": "ordinal", "scale": {"type": "point", "domain": [1, 2, 3], "range": [510, 559], "padding": 0}, "axis": null},
        "text": {"field": "text"}
      },
      "layer": [
        {"transform": [{"filter": "datum.seg === 'fig'"}], "mark": {"type": "text", "align": "left", "baseline": "middle", "font": "Open Sans", "fontSize": 18.5, "fontWeight": "bold", "color": "#222"}},
        {"transform": [{"filter": "datum.seg === 't1'"}], "mark": {"type": "text", "align": "left", "baseline": "middle", "font": "Open Sans", "fontSize": 18.5, "dx": 61, "color": "#222"}},
        {"transform": [{"filter": "datum.seg === 'a'"}], "mark": {"type": "text", "align": "left", "baseline": "middle", "font": "Open Sans", "fontSize": 18.5, "fontWeight": "bold", "dx": 746, "color": "#222"}},
        {"transform": [{"filter": "datum.seg === 't2'"}], "mark": {"type": "text", "align": "left", "baseline": "middle", "font": "Open Sans", "fontSize": 18.5, "dx": 763, "color": "#222"}},
        {"transform": [{"filter": "datum.seg === 't3' || datum.seg === 't5'"}], "mark": {"type": "text", "align": "left", "baseline": "middle", "font": "Open Sans", "fontSize": 18.5, "color": "#222"}},
        {"transform": [{"filter": "datum.seg === 'b'"}], "mark": {"type": "text", "align": "left", "baseline": "middle", "font": "Open Sans", "fontSize": 18.5, "fontWeight": "bold", "dx": 239, "color": "#222"}},
        {"transform": [{"filter": "datum.seg === 't4'"}], "mark": {"type": "text", "align": "left", "baseline": "middle", "font": "Open Sans", "fontSize": 18.5, "dx": 256, "color": "#222"}}
      ]
    }
  ],
  "resolve": {"scale": {"x": "independent", "y": "independent"}, "axis": {"x": "independent", "y": "independent"}}
}
